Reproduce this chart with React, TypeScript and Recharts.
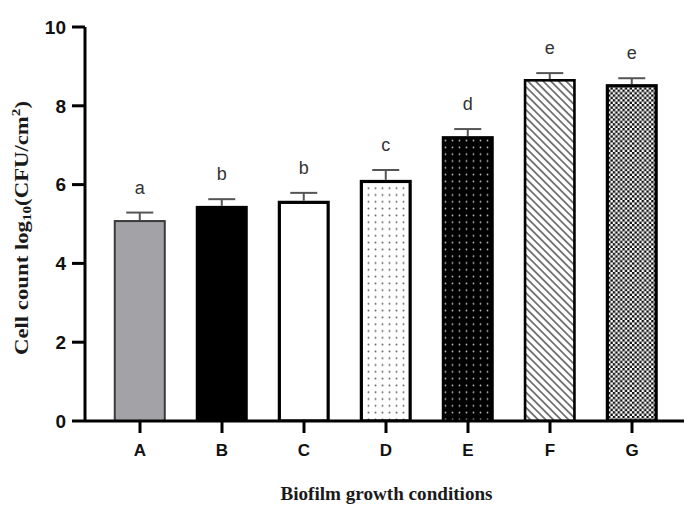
import React from 'react';
import { BarChart, Bar, XAxis, YAxis, Label } from 'recharts';

const categories = ['A', 'B', 'C', 'D', 'E', 'F', 'G'];
const means = [5.1, 5.46, 5.59, 6.12, 7.23, 8.68, 8.55];
const errors = [0.19, 0.17, 0.2, 0.25, 0.18, 0.15, 0.15];
const letters = ['a', 'b', 'b', 'c', 'd', 'e', 'e'];
const yTicks = [0, 2, 4, 6, 8, 10];

const data = categories.map((c, i) => ({ name: c, value: means[i], err: errors[i], letter: letters[i] }));

const barFills = ['#a3a2a7', '#000000', '#ffffff', 'url(#patD)', 'url(#patE)', 'url(#patF)', 'url(#patG)'];
const barStrokes = ['#3a3a3a', '#000000', '#000000', '#000000', '#000000', '#000000', '#000000'];
const barStrokeWidths = [2, 2, 3.2, 3.2, 2, 2.6, 3.2];

const BarShape = (props: any) => {
  const { x, y, width, height, payload, index } = props;
  if (!payload || height == null) return null;
  const unit = height / payload.value;
  const errTop = y - payload.err * unit;
  const cx = x + width / 2;
  const sw = barStrokeWidths[index];
  return (
    <g>
      <rect
        x={x + sw / 2}
        y={y + sw / 2}
        width={width - sw}
        height={height - sw / 2}
        fill={barFills[index]}
        stroke={barStrokes[index]}
        strokeWidth={sw}
      />
      <line x1={cx} x2={cx} y1={y} y2={errTop} stroke="#555" strokeWidth={2} />
      <line x1={cx - 13.5} x2={cx + 13.5} y1={errTop} y2={errTop} stroke="#555" strokeWidth={2} />
      <text
        x={cx}
        y={errTop - 19}
        textAnchor="middle"
        fontFamily="'Liberation Sans', Arial, sans-serif"
        fontSize={18}
        fill="#333"
      >
        {payload.letter}
      </text>
    </g>
  );
};

const YTitle = (props: any) => {
  const vb = props.viewBox || {};
  const cx = 14;
  const cy = (vb.y ?? 19) + (vb.height ?? 394) / 2 + 4;
  return (
    <text
      x={cx}
      y={cy}
      transform={`rotate(-90, ${cx}, ${cy})`}
      textAnchor="middle"
      dominantBaseline="central"
      fontFamily="'Liberation Serif', 'Times New Roman', serif"
      fontWeight="bold"
      fontSize={18}
      fill="#1a1a1a"
      textLength={254}
      lengthAdjust="spacingAndGlyphs"
    >
      Cell count log
      <tspan fontSize={12} dy={5}>10</tspan>
      <tspan dy={-5}>(CFU/cm</tspan>
      <tspan fontSize={12} dy={-6}>2</tspan>
      <tspan dy={6}>)</tspan>
    </text>
  );
};

const XTitle = (props: any) => {
  const vb = props.viewBox || {};
  const cx = (vb.x ?? 77) + (vb.width ?? 603) / 2;
  return (
    <text
      x={cx}
      y={486}
      textAnchor="middle"
      dominantBaseline="central"
      fontFamily="'Liberation Serif', 'Times New Roman', serif"
      fontWeight="bold"
      fontSize={18}
      fill="#1a1a1a"
      textLength={212}
      lengthAdjust="spacingAndGlyphs"
    >
      Biofilm growth conditions
    </text>
  );
};

export default function App() {
  return (
    <BarChart
      width={684}
      height={511}
      data={data}
      margin={{ top: 19, right: 4, bottom: 38, left: 0 }}
      barCategoryGap="18%"
    >
      <defs>
        <pattern id="patD" width="7" height="6.8" patternUnits="userSpaceOnUse">
          <rect width="7" height="6.8" fill="#ffffff" />
          <circle cx="3.5" cy="3.4" r="1" fill="#666" />
        </pattern>
        <pattern id="patE" width="7" height="6.8" patternUnits="userSpaceOnUse">
          <rect width="7" height="6.8" fill="#000000" />
          <circle cx="3.5" cy="3.4" r="0.9" fill="#bbb" />
        </pattern>
        <pattern id="patF" width="5.4" height="5.4" patternUnits="userSpaceOnUse" patternTransform="rotate(-45)">
          <rect width="5.4" height="5.4" fill="#ffffff" />
          <line x1="2.7" y1="0" x2="2.7" y2="5.4" stroke="#555" strokeWidth="1.5" />
        </pattern>
        <pattern id="patG" width="4.8" height="4.8" patternUnits="userSpaceOnUse">
          <rect width="4.8" height="4.8" fill="#ffffff" />
          <rect x="0" y="0" width="2.4" height="2.4" fill="#111" />
          <rect x="2.4" y="2.4" width="2.4" height="2.4" fill="#111" />
        </pattern>
      </defs>
      <XAxis
        dataKey="name"
        height={60}
        padding={{ left: 14, right: 15 }}
        axisLine={{ stroke: '#000', strokeWidth: 3 }}
        tickLine={{ stroke: '#000', strokeWidth: 3 }}
        tickSize={12}
        tickMargin={11}
        tick={{ fill: '#111', fontSize: 17, fontWeight: 'bold', fontFamily: "'Liberation Sans', Arial, sans-serif" }}
        interval={0}
      >
        <Label content={<XTitle />} />
      </XAxis>
      <YAxis
        width={77}
        domain={[0, 10]}
        ticks={yTicks}
        allowDataOverflow
        axisLine={{ stroke: '#000', strokeWidth: 3 }}
        tickLine={{ stroke: '#000', strokeWidth: 3 }}
        tickSize={13}
        tickMargin={6}
        tick={{ fill: '#111', fontSize: 19, fontWeight: 'bold', fontFamily: "'Liberation Sans', Arial, sans-serif" }}
      >
        <Label content={<YTitle />} />
      </YAxis>
      <Bar dataKey="value" shape={<BarShape />} isAnimationActive={false} />
    </BarChart>
  );
}
